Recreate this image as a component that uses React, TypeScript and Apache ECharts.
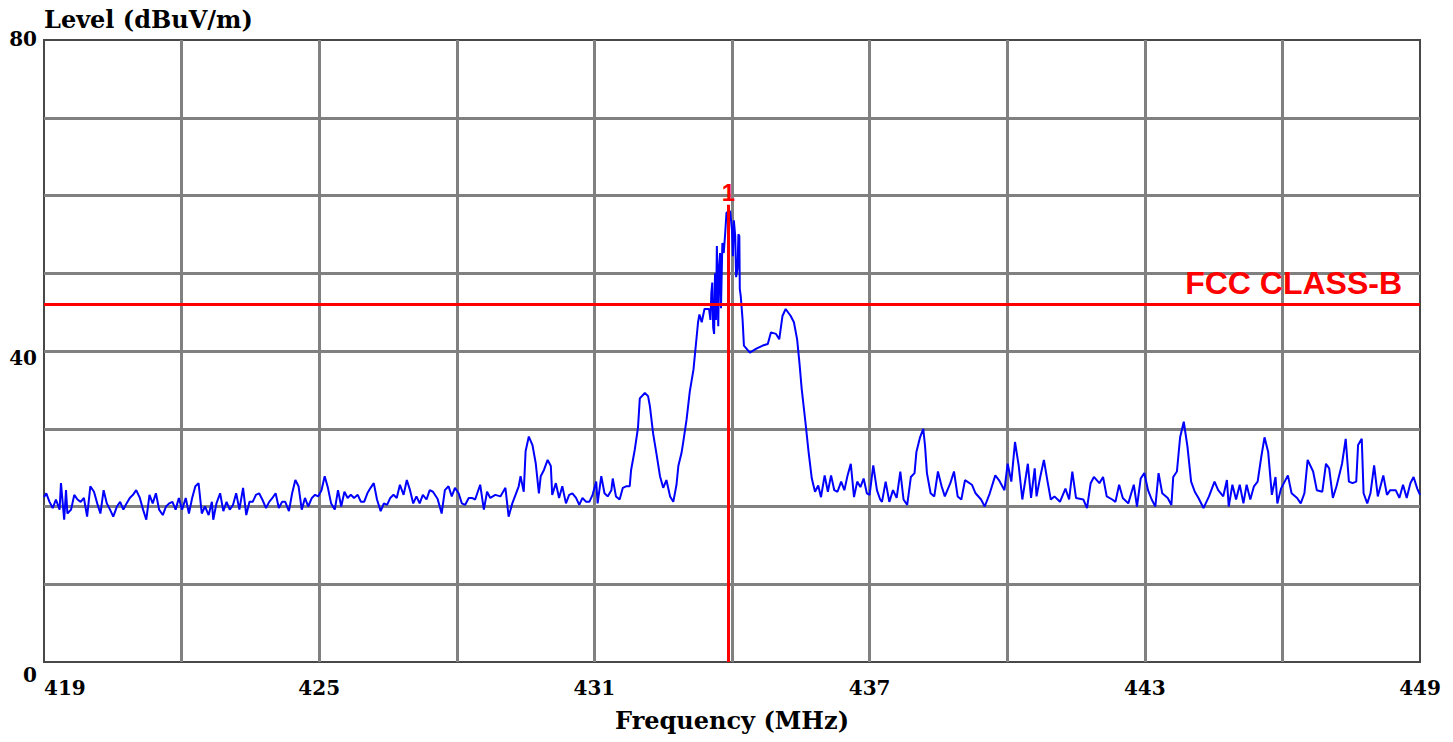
import React, { useEffect, useRef } from "react";
import * as echarts from "echarts";

const X_MIN = 419;
const X_MAX = 449;
const X_STEP = 3;
const X_LABELS = [419, 425, 431, 437, 443, 449];
const Y_MIN = 0;
const Y_MAX = 80;
const Y_STEP = 10;
const Y_LABELS = [0, 40, 80];
const X_NAME = "Frequency (MHz)";
const Y_NAME = "Level (dBuV/m)";
const LIMIT_DB = 46;
const LIMIT_NAME = "FCC CLASS-B";
const MARKER_FREQ = 433.92;
const MARKER_LEVEL = 58.8;
const MARKER_NAME = "1";

// [frequency MHz, level dBuV/m]
const SPECTRUM: [number, number][] = [
  [419.0, 21.2], [419.05, 21.7], [419.12, 20.6], [419.19, 19.8], [419.26, 20.9], [419.34, 19.6], [419.37, 23.0], [419.44, 18.3],
  [419.48, 22.1], [419.51, 19.1], [419.59, 19.6], [419.66, 21.5], [419.73, 20.9], [419.8, 20.6], [419.87, 21.1], [419.94, 18.7],
  [420.01, 22.6], [420.09, 21.9], [420.16, 20.4], [420.23, 19.1], [420.3, 22.1], [420.37, 20.4], [420.44, 19.6], [420.51, 18.7],
  [420.59, 20.0], [420.66, 20.6], [420.73, 19.6], [420.8, 20.4], [420.87, 21.1], [420.94, 21.5], [421.01, 22.1], [421.09, 21.1],
  [421.16, 19.6], [421.23, 18.3], [421.3, 21.5], [421.37, 20.4], [421.44, 21.7], [421.51, 19.6], [421.59, 18.9], [421.66, 20.0],
  [421.73, 20.4], [421.8, 20.6], [421.87, 19.6], [421.94, 21.1], [422.01, 19.6], [422.09, 21.1], [422.16, 19.1], [422.23, 21.1],
  [422.3, 22.6], [422.37, 23.0], [422.44, 19.1], [422.51, 20.0], [422.59, 18.9], [422.66, 20.6], [422.69, 18.3], [422.76, 20.4],
  [422.84, 21.7], [422.91, 19.4], [422.98, 20.6], [423.05, 19.6], [423.12, 20.2], [423.19, 21.7], [423.26, 19.6], [423.34, 22.4],
  [423.41, 18.9], [423.48, 20.6], [423.55, 20.6], [423.62, 21.5], [423.69, 21.7], [423.76, 20.9], [423.84, 19.8], [423.91, 20.6],
  [423.98, 21.1], [424.05, 21.7], [424.12, 19.8], [424.19, 20.6], [424.26, 20.6], [424.34, 19.4], [424.41, 21.7], [424.48, 23.4],
  [424.55, 22.6], [424.62, 19.6], [424.69, 21.1], [424.76, 20.0], [424.84, 21.1], [424.91, 21.5], [424.98, 21.3], [425.05, 22.1],
  [425.12, 23.9], [425.19, 22.4], [425.26, 20.4], [425.34, 19.6], [425.41, 22.1], [425.48, 20.0], [425.55, 21.9], [425.62, 21.1],
  [425.69, 21.5], [425.76, 21.1], [425.84, 21.5], [425.91, 20.6], [425.98, 20.6], [426.05, 21.7], [426.12, 22.4], [426.19, 23.0],
  [426.26, 20.9], [426.34, 19.4], [426.41, 20.4], [426.48, 20.2], [426.55, 21.1], [426.62, 21.5], [426.69, 21.1], [426.76, 22.8],
  [426.84, 21.5], [426.91, 23.4], [426.98, 22.1], [427.05, 20.4], [427.12, 21.3], [427.19, 20.4], [427.26, 21.5], [427.34, 20.9],
  [427.41, 22.1], [427.48, 21.9], [427.58, 21.0], [427.67, 19.1], [427.74, 22.1], [427.82, 22.6], [427.89, 21.3], [427.96, 22.4],
  [428.04, 21.7], [428.11, 20.4], [428.18, 20.2], [428.26, 21.1], [428.33, 21.1], [428.4, 20.9], [428.51, 22.8], [428.59, 19.6],
  [428.66, 21.9], [428.73, 21.1], [428.84, 21.5], [428.95, 21.3], [429.06, 22.4], [429.13, 18.7], [429.21, 20.4], [429.28, 21.5],
  [429.35, 22.6], [429.39, 23.9], [429.46, 21.9], [429.5, 27.1], [429.57, 29.0], [429.65, 27.9], [429.72, 25.6], [429.79, 21.7],
  [429.83, 23.9], [429.9, 24.7], [429.98, 26.0], [430.05, 25.2], [430.08, 21.5], [430.16, 23.0], [430.23, 21.1], [430.3, 22.6],
  [430.38, 20.4], [430.45, 21.5], [430.52, 21.7], [430.6, 21.1], [430.67, 20.2], [430.74, 21.1], [430.82, 20.6], [430.89, 20.6],
  [430.96, 21.5], [431.04, 23.2], [431.07, 20.4], [431.15, 23.9], [431.22, 21.7], [431.29, 21.3], [431.37, 22.1], [431.4, 23.6],
  [431.47, 21.3], [431.55, 20.9], [431.62, 22.4], [431.69, 22.6], [431.77, 22.6], [431.8, 24.7], [431.88, 27.3], [431.95, 30.1],
  [431.99, 33.9], [432.1, 34.6], [432.17, 34.2], [432.21, 32.9], [432.28, 29.4], [432.35, 26.9], [432.43, 23.9], [432.5, 22.4],
  [432.57, 23.4], [432.65, 21.3], [432.72, 20.6], [432.79, 22.8], [432.83, 25.2], [432.9, 26.9], [432.94, 28.4], [433.01, 31.2],
  [433.08, 34.8], [433.16, 37.6], [433.26, 43.7], [433.29, 44.7], [433.34, 43.7], [433.4, 45.4], [433.5, 45.4], [433.53, 44.0],
  [433.55, 47.5], [433.57, 48.8], [433.59, 43.0], [433.61, 42.2], [433.63, 50.0], [433.65, 44.0], [433.67, 53.5], [433.7, 43.2],
  [433.72, 51.0], [433.74, 52.6], [433.76, 45.5], [433.79, 53.9], [433.82, 52.6], [433.85, 55.0], [433.88, 57.8], [433.96, 58.0],
  [434.0, 55.5], [434.02, 52.2], [434.04, 56.8], [434.07, 54.8], [434.09, 49.5], [434.12, 50.5], [434.14, 55.0], [434.16, 54.8],
  [434.17, 48.0], [434.19, 47.1], [434.23, 44.1], [434.26, 40.7], [434.39, 39.8],
  [434.53, 40.3], [434.67, 40.7], [434.78, 40.9], [434.85, 42.4], [434.96, 42.2], [435.03, 41.5], [435.1, 44.5], [435.17, 45.4],
  [435.28, 44.5], [435.35, 43.7], [435.42, 41.5], [435.47, 38.5], [435.52, 35.1], [435.6, 30.9], [435.67, 27.0], [435.74, 23.6],
  [435.81, 21.9], [435.88, 22.7], [435.94, 21.2], [436.02, 24.0], [436.09, 21.9], [436.16, 24.0], [436.23, 22.1], [436.3, 21.9],
  [436.38, 23.2], [436.45, 22.1], [436.52, 24.0], [436.59, 25.5], [436.66, 21.2], [436.73, 23.2], [436.8, 22.5], [436.87, 23.6],
  [436.94, 21.7], [437.0, 21.5], [437.08, 25.3], [437.16, 22.1], [437.23, 20.9], [437.27, 20.6], [437.35, 23.2], [437.43, 20.6],
  [437.51, 22.1], [437.59, 21.1], [437.67, 24.5], [437.74, 20.9], [437.82, 20.2], [437.9, 23.8], [437.98, 24.3], [438.02, 27.0],
  [438.1, 28.9], [438.17, 30.0], [438.21, 27.7], [438.25, 24.3], [438.33, 21.7], [438.41, 21.3], [438.49, 24.5], [438.57, 22.6],
  [438.64, 21.3], [438.76, 23.0], [438.84, 24.5], [438.92, 21.3], [439.0, 20.9], [439.08, 23.4], [439.23, 22.8], [439.31, 21.7],
  [439.43, 20.9], [439.51, 20.0], [439.62, 21.7], [439.74, 24.0], [439.82, 23.4], [439.94, 22.1], [440.01, 25.5], [440.09, 23.2],
  [440.17, 28.3], [440.25, 25.3], [440.33, 20.9], [440.45, 25.5], [440.52, 21.1], [440.6, 24.9], [440.64, 21.3], [440.72, 23.8],
  [440.8, 26.0], [440.88, 23.2], [440.95, 20.9], [441.03, 21.3], [441.15, 20.6], [441.27, 22.3], [441.35, 20.9], [441.42, 24.5],
  [441.5, 21.1], [441.66, 20.9], [441.74, 19.8], [441.82, 23.0], [441.89, 23.8], [442.01, 23.0], [442.09, 23.8], [442.17, 21.3],
  [442.29, 20.9], [442.36, 20.6], [442.44, 22.8], [442.52, 21.1], [442.64, 20.4], [442.76, 22.8], [442.83, 20.0], [442.91, 23.6],
  [442.99, 24.3], [443.07, 22.1], [443.15, 20.9], [443.23, 20.0], [443.3, 24.3], [443.38, 21.7], [443.5, 21.1], [443.58, 20.2],
  [443.62, 23.8], [443.7, 24.5], [443.73, 26.4], [443.77, 28.9], [443.85, 30.9], [443.93, 27.7], [444.01, 23.2], [444.09, 21.9],
  [444.17, 21.1], [444.28, 19.8], [444.4, 21.3], [444.52, 23.2], [444.6, 22.1], [444.71, 21.3], [444.79, 23.4], [444.83, 20.0],
  [444.91, 22.8], [444.99, 20.9], [445.07, 22.8], [445.15, 20.4], [445.22, 22.8], [445.3, 20.9], [445.38, 22.6], [445.46, 23.2],
  [445.54, 26.4], [445.61, 28.9], [445.69, 27.0], [445.77, 21.5], [445.85, 23.8], [445.89, 20.4], [445.97, 22.3], [446.12, 24.0],
  [446.2, 21.7], [446.32, 21.1], [446.4, 20.4], [446.48, 21.7], [446.55, 26.0], [446.67, 24.5], [446.75, 22.1], [446.87, 21.9],
  [446.95, 25.5], [447.02, 24.9], [447.1, 21.1], [447.18, 22.6], [447.3, 25.5], [447.38, 28.7], [447.45, 23.2], [447.53, 23.0],
  [447.61, 23.2], [447.65, 27.9], [447.73, 28.7], [447.77, 21.7], [447.85, 20.4], [447.92, 21.7], [448.0, 25.3], [448.08, 21.3],
  [448.2, 24.0], [448.28, 21.5], [448.35, 22.1], [448.47, 22.1], [448.55, 21.1], [448.63, 22.8], [448.71, 21.1], [448.79, 23.0],
  [448.86, 23.8], [448.94, 22.3], [449.0, 21.5],
];

const SERIF = "'DejaVu Serif', 'Liberation Serif', serif";
const SANS = "'Liberation Sans', Arial, sans-serif";

export default function App() {
  const ref = useRef<HTMLDivElement>(null);

  useEffect(() => {
    if (!ref.current) return;
    const chart = echarts.init(ref.current, undefined, { renderer: "svg" });
    const labelBase = { fontFamily: SERIF, fontWeight: "bold" as const, fontSize: 20, color: "#000" };
    chart.setOption({
      animation: false,
      backgroundColor: "#ffffff",
      grid: {
        left: 44,
        right: 33,
        top: 40,
        bottom: 80,
        show: true,
        borderColor: "#484848",
        borderWidth: 2,
        backgroundColor: "transparent",
      },
      xAxis: {
        type: "value",
        min: X_MIN,
        max: X_MAX,
        interval: X_STEP,
        axisLine: { show: false },
        axisTick: { show: false },
        splitLine: {
          show: true,
          showMinLine: false,
          showMaxLine: false,
          lineStyle: { color: "#808080", width: 3 },
        },
        axisLabel: {
          ...labelBase,
          margin: 16,
          alignMinLabel: "left",
          formatter: (v: number) => (X_LABELS.includes(Math.round(v)) ? String(Math.round(v)) : ""),
        },
        name: X_NAME,
        nameLocation: "middle",
        nameGap: 46,
        nameTextStyle: { fontFamily: SERIF, fontWeight: "bold", fontSize: 24, color: "#000" },
      },
      yAxis: {
        type: "value",
        min: Y_MIN,
        max: Y_MAX,
        interval: Y_STEP,
        axisLine: { show: false },
        axisTick: { show: false },
        splitLine: {
          show: true,
          showMinLine: false,
          showMaxLine: false,
          lineStyle: { color: "#808080", width: 3 },
        },
        axisLabel: {
          ...labelBase,
          margin: 7,
          formatter: (v: number) => {
            if (!Y_LABELS.includes(v)) return "";
            if (v === Y_MAX) return `{t|${v}}`;
            if (v === Y_MIN) return `{b|${v}}`;
            return `{m|${v}}`;
          },
          rich: {
            t: { ...labelBase, padding: [0, 0, 3, 0] },
            m: { ...labelBase, padding: [14, 0, 0, 0] },
            b: { ...labelBase, padding: [26, 0, 0, 0] },
          },
        },
        name: Y_NAME,
        nameLocation: "end",
        nameGap: 9,
        nameTextStyle: {
          fontFamily: SERIF,
          fontWeight: "bold",
          fontSize: 24,
          color: "#000",
          align: "left",
          verticalAlign: "bottom",
        },
      },
      series: [
        {
          type: "line",
          data: SPECTRUM,
          symbol: "none",
          showSymbol: false,
          silent: true,
          lineStyle: { color: "#0000ff", width: 2 },
          z: 2,
          markLine: {
            silent: true,
            symbol: "none",
            animation: false,
            data: [
              {
                yAxis: LIMIT_DB,
                lineStyle: { color: "#ff0000", width: 3, type: "solid" },
                label: {
                  show: true,
                  position: "insideEndTop",
                  formatter: LIMIT_NAME,
                  color: "#ff0000",
                  fontFamily: SANS,
                  fontWeight: "bold",
                  fontSize: 32,
                  distance: [18, 5],
                },
              },
              [
                {
                  coord: [MARKER_FREQ, Y_MIN],
                  lineStyle: { color: "#ff0000", width: 3, type: "solid" },
                },
                {
                  coord: [MARKER_FREQ, MARKER_LEVEL],
                  label: {
                    show: true,
                    position: "end",
                    formatter: MARKER_NAME,
                    color: "#ff0000",
                    fontFamily: SANS,
                    fontWeight: "bold",
                    fontSize: 24,
                    distance: 0,
                  },
                },
              ],
            ],
          },
        },
      ],
    });
    return () => chart.dispose();
  }, []);

  return (
    <div
      ref={ref}
      style={{ position: "absolute", left: 0, top: 0, width: 1453, height: 742, background: "#fff" }}
    />
  );
}
